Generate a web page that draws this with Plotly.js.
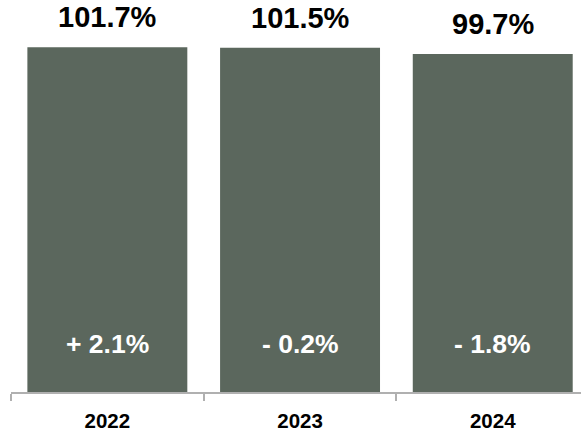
<!DOCTYPE html>
<html>
<head>
<meta charset="utf-8">
<script src="https://cdn.plot.ly/plotly-3.0.1.min.js"></script>
<style>
  html, body { margin: 0; padding: 0; background: #ffffff; }
  #chart { width: 581px; height: 433px; }
</style>
</head>
<body>
<div id="chart"></div>
<script>
const years = ["2022", "2023", "2024"];
const values = [101.7, 101.5, 99.7];
const valueLabels = ["101.7%", "101.5%", "99.7%"];
const changeLabels = ["+ 2.1%", "- 0.2%", "- 1.8%"];

const barColor = "#5b675d";
const fontFamily = "Liberation Sans, Arial, sans-serif";

const trace = {
  type: "bar",
  x: years,
  y: values,
  width: 0.83,
  marker: { color: barColor, line: { width: 0 } },
  hoverinfo: "none"
};

const annotations = [];
for (let i = 0; i < years.length; i++) {
  annotations.push({
    x: i, y: values[i], xref: "x", yref: "y",
    text: valueLabels[i],
    showarrow: false, xanchor: "center", yanchor: "middle", yshift: 30,
    font: { family: fontFamily, size: 29, color: "#000000", weight: "bold" }
  });
  annotations.push({
    x: i, y: 0, xref: "x", yref: "y",
    text: changeLabels[i],
    showarrow: false, xanchor: "center", yanchor: "middle", yshift: 48.5,
    font: { family: fontFamily, size: 26.5, color: "#ffffff", weight: "bold" }
  });
}

const layout = {
  width: 581,
  height: 433,
  margin: { l: 11, r: 0, t: 0, b: 41, pad: 0 },
  paper_bgcolor: "#ffffff",
  plot_bgcolor: "#ffffff",
  showlegend: false,
  xaxis: {
    type: "category",
    range: [-0.5, 2.458],
    showline: true,
    linecolor: "#b0b0b0",
    linewidth: 2,
    ticks: "outside",
    tickson: "boundaries",
    ticklen: 7,
    tickwidth: 2,
    tickcolor: "#b0b0b0",
    showgrid: false,
    zeroline: false,
    ticklabelstandoff: 9,
    tickfont: { family: fontFamily, size: 20.5, color: "#000000", weight: "bold" },
    fixedrange: true
  },
  yaxis: {
    range: [0, 115.6],
    visible: false,
    showgrid: false,
    zeroline: false,
    fixedrange: true
  },
  annotations: annotations
};

Plotly.newPlot("chart", [trace], layout, { displayModeBar: false });
</script>
</body>
</html>
